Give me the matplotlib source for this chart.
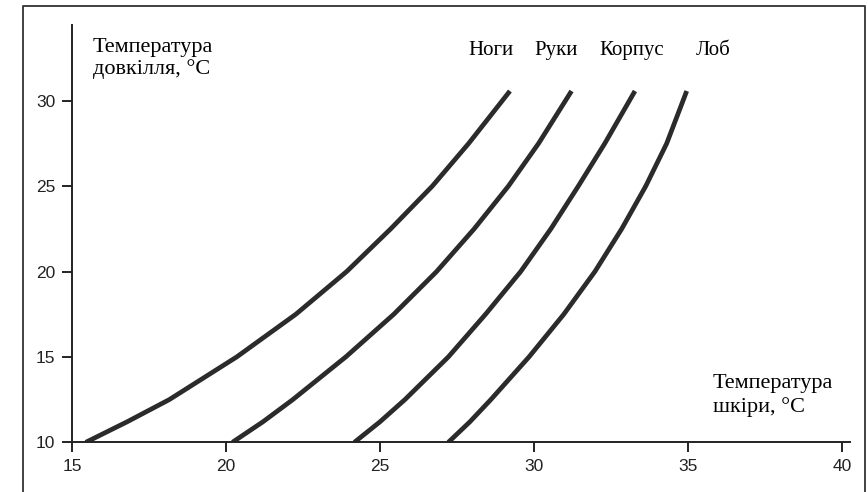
import matplotlib
matplotlib.use("Agg")
import matplotlib.pyplot as plt
from matplotlib.lines import Line2D

# ambient temperature (y) vs skin temperature (x)
temp_y = [10.0, 11.2, 12.5, 15.0, 17.5, 20.0, 22.5, 25.0, 27.5, 30.57]

noghy_x = [15.45, 16.79, 18.16, 20.35, 22.27, 23.92, 25.35, 26.70, 27.88, 29.22]
ruky_x = [20.21, 21.20, 22.17, 23.89, 25.45, 26.84, 28.06, 29.17, 30.15, 31.22]
korpus_x = [24.17, 25.00, 25.81, 27.22, 28.43, 29.57, 30.55, 31.44, 32.30, 33.28]
lob_x = [27.22, 27.92, 28.60, 29.84, 30.97, 31.98, 32.85, 33.63, 34.31, 34.96]

curve_labels = ["Ноги", "Руки", "Корпус", "Лоб"]
label_x = [27.86, 30.03, 32.11, 35.26]

xticks = [15, 20, 25, 30, 35, 40]
yticks = [10, 15, 20, 25, 30]


def main():
    fig = plt.figure(figsize=(8.68, 4.92), dpi=100)
    ax = fig.add_axes([0.0829, 0.101, 0.8963, 0.848])

    line_color = "#2b2b2b"
    for xs in [noghy_x, ruky_x, korpus_x, lob_x]:
        ax.plot(xs, temp_y, color=line_color, lw=3.4,
                solid_capstyle="butt", solid_joinstyle="round")

    ax.set_xlim(15, 40.26)
    ax.set_ylim(10, 34.43)
    ax.set_xticks(xticks)
    ax.set_yticks(yticks)

    for side in ["top", "right"]:
        ax.spines[side].set_visible(False)
    for side in ["left", "bottom"]:
        ax.spines[side].set_linewidth(1.4)
        ax.spines[side].set_color("#222222")
    ax.tick_params(axis="both", direction="out", length=7, width=1.4,
                   color="#222222", labelsize=12.5)
    ax.tick_params(axis="x", pad=5)
    ax.tick_params(axis="y", pad=5)
    for lbl in ax.get_xticklabels() + ax.get_yticklabels():
        lbl.set_fontfamily("Liberation Sans")
        lbl.set_color("#222222")

    serif = "Liberation Serif"
    for name, lx in zip(curve_labels, label_x):
        ax.text(lx, 32.95, name, fontsize=15, family=serif, va="center", ha="left")

    ax.text(15.68, 33.7, "Температура\nдовкілля, °С", fontsize=16, family=serif,
            va="top", ha="left", linespacing=1.2)
    ax.text(35.81, 14.0, "Температура\nшкіри, °С", fontsize=16, family=serif,
            va="top", ha="left", linespacing=1.25)

    # scanned frame around the figure
    fw, fh = 868.0, 492.0
    frame_x = [23 / fw, 23 / fw, 865 / fw, 865 / fw]
    frame_y = [0.0, 1 - 6 / fh, 1 - 6 / fh, 0.0]
    fig.add_artist(Line2D(frame_x, frame_y, transform=fig.transFigure,
                          color="#333333", lw=1.3))

    fig.savefig("out.png", dpi=100)


if __name__ == "__main__":
    main()
